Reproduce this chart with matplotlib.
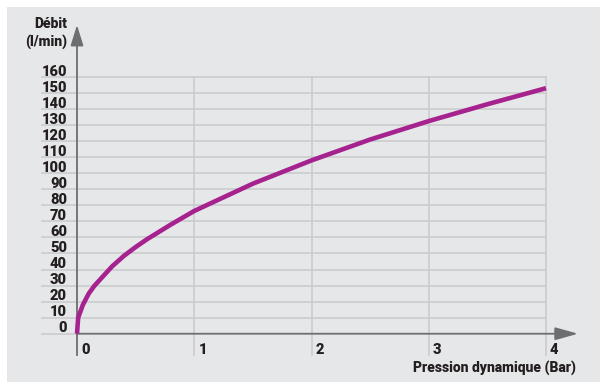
"""
courbe debit / pression dynamique
"""

import matplotlib.pyplot as plt
from matplotlib.patches import Rectangle

# values
pression = [0, 0.01, 0.03, 0.05, 0.1, 0.15, 0.2, 0.3, 0.4, 0.5, 0.6, 0.8, 1.0, 1.25, 1.5, 2.0, 2.5, 3.0, 3.5, 4.0]
debit = [0, 10, 14, 18, 25, 30, 34, 42, 48.5, 54, 59, 68, 76.5, 85, 93.5, 108, 121, 132.5, 143, 153]

y_ticks = list(range(0, 170, 10))
x_ticks = [0, 1, 2, 3, 4]

BG = '#e6e7e8'
GRID = '#c9cacc'
AXIS = '#6d6e70'
CURVE = '#a5228f'
TEXT = '#231f20'

plt.rcParams['font.family'] = ['Roboto', 'DejaVu Sans']

W, H = 600, 382
fig = plt.figure(figsize=(W / 100, H / 100), dpi=100)
fig.patch.set_facecolor('white')
fig.patches.append(Rectangle((7 / W, 0), 1 - 7 / W, 1 - 7 / H, transform=fig.transFigure,
                             facecolor=BG, edgecolor='none', zorder=-5))

# axes box in pixels, data limits chosen so 0 -> x=77 px, 4 -> x=546 px
px_x = 117.25
px_y = 1.606
left_px, right_px, top_px, bot_px = 41, 582, 20, 362
ax = fig.add_axes([left_px / W, 1 - bot_px / H, (right_px - left_px) / W, (bot_px - top_px) / H])
ax.set_xlim(-(77 - left_px) / px_x, 4 + (right_px - 546) / px_x)
ax.set_ylim(-(bot_px - 333.7) / px_y, 160 + (77 - top_px) / px_y)
ax.axis('off')
ax.patch.set_alpha(0)

x_min = ax.get_xlim()[0]
y_low = -(355 - 333.7) / px_y

# grid
for v in y_ticks[1:]:
    ax.plot([x_min, 4], [v, v], color=GRID, lw=1.1, zorder=1)
ax.plot([x_min, 0], [0, 0], color=GRID, lw=1.1, zorder=1)
for v in x_ticks[1:]:
    ax.plot([v, v], [y_low, 160], color=GRID, lw=1.1, zorder=1)

# axes with arrows
ax.plot([0, 0], [y_low, 0], color=AXIS, lw=1.3, zorder=2)
ax.annotate('', xy=(0, 160 + (77 - 25) / px_y), xytext=(0, 0),
            arrowprops=dict(arrowstyle='-|>,head_length=0.9,head_width=0.28', color=AXIS,
                            lw=1.3, mutation_scale=14, shrinkA=0, shrinkB=0), zorder=2)
ax.annotate('', xy=(4 + (578 - 546) / px_x, 0), xytext=(0, 0),
            arrowprops=dict(arrowstyle='-|>,head_length=1.0,head_width=0.28', color=AXIS,
                            lw=1.3, mutation_scale=14, shrinkA=0, shrinkB=0), zorder=2)

# curve
ax.plot(pression, debit, color=CURVE, lw=3.3, solid_capstyle='butt', solid_joinstyle='round', zorder=3)

# tick labels
for v in y_ticks:
    ax.text(-10 / px_x, v + 0.9, str(v), ha='right', va='baseline', fontsize=10.5,
            fontweight='heavy', color=TEXT)
for v in x_ticks:
    ax.text(v + 4 / px_x, -(354 - 333.7) / px_y, str(v), ha='left', va='baseline',
            fontsize=10.5, fontweight='heavy', color=TEXT)

# axis titles
fig.text(67 / W, 1 - 17 / H, 'Débit\n(l/min)', ha='right', va='top', fontsize=10,
         fontweight='heavy', color=TEXT, linespacing=1.25)
fig.text(576 / W, 1 - 372 / H, 'Pression dynamique (Bar)', ha='right', va='baseline',
         fontsize=10, fontweight='heavy', color=TEXT)

plt.savefig('out.png', dpi=100)
plt.close()
